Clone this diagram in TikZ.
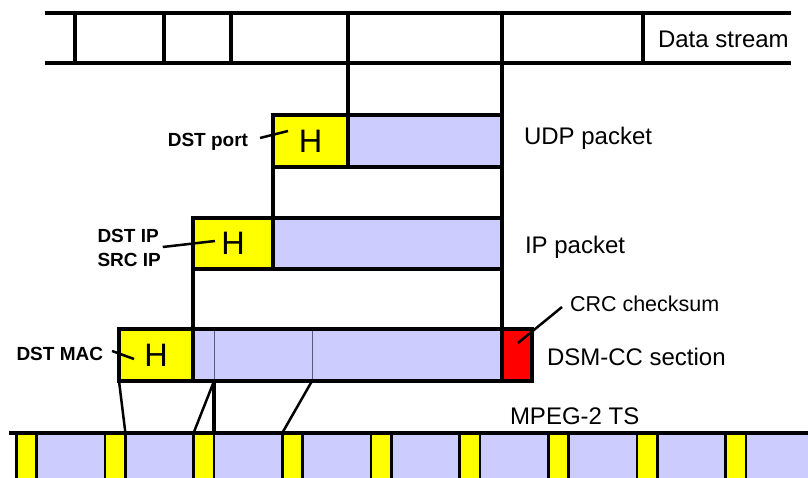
\documentclass[tikz,border=0pt]{standalone}
\usepackage{fontspec}
\setmainfont{Liberation Sans}
\usetikzlibrary{calc}
\definecolor{lav}{HTML}{CCCCFF}
\definecolor{yel}{HTML}{FFFF00}
\definecolor{crcred}{HTML}{FF0000}
\definecolor{thindiv}{HTML}{5A5A78}
\begin{document}
\begin{tikzpicture}[x=1pt,y=-1pt,
  thickline/.style={line width=3.2pt},
  leader/.style={line width=2.5pt},
  thinline/.style={line width=1pt, draw=thindiv},
  box/.style={draw=black, line width=3.2pt, inner sep=0pt, outer sep=0pt, anchor=north west},
  hbox/.style={box, fill=yel, font=\fontsize{32.5}{33}\selectfont},
  pbox/.style={box, fill=lav},
  lbl/.style={inner sep=0pt, outer sep=0pt, font=\fontsize{24}{28}\selectfont},
  tag/.style={inner sep=0pt, outer sep=0pt, font=\fontsize{19}{23}\selectfont\bfseries},
  stripe/.style={draw=black, fill=yel, line width=2.7pt, inner sep=0pt, outer sep=0pt,
    anchor=north west, minimum width=20.5pt, minimum height=60pt}]
\useasboundingbox (0,0) rectangle (808,478);
\clip (0,0) rectangle (808,478);

% ---- MPEG-2 TS row ----
\node[fill=lav, inner sep=0pt, outer sep=0pt, anchor=north west,
  minimum width=793pt, minimum height=50pt] (ts) at (15,433) {};
\foreach \i in {1,...,9}
  \node[stripe] (s\i) at ({16.25+88.66*(\i-1)},433) {};
\coordinate (tsstart) at (9,433);
\draw[thickline] (tsstart) -- (ts.north east);
\node[lbl, anchor=base west] (lts) at (510,424) {MPEG-2 TS};

% ---- Data stream ----
\coordinate (stTL) at (45,13);
\coordinate (stTR) at (791,13);
\coordinate (stBL) at (45,63);
\coordinate (stBR) at (791,63);
\draw[thickline] (stTL) -- (stTR);
\draw[thickline] (stBL) -- (stBR);
\foreach \x in {75,164,231,643}
  \draw[thickline] (\x,13) -- (\x,63);
\node[lbl, anchor=base west] (lds) at (658,48) {Data stream};

% ---- UDP packet ----
\node[hbox, minimum width=75pt, minimum height=52pt] (udpH) at (273,115) {H};
\node[pbox, minimum width=154pt, minimum height=52pt] (udpP) at (348,115) {};
\node[lbl, anchor=base west] (ludp) at (524,145) {UDP packet};

% ---- IP packet ----
\node[hbox, minimum width=80pt, minimum height=51pt] (ipH) at (193,218) {H};
\node[pbox, minimum width=229pt, minimum height=51pt] (ipP) at (273,218) {};
\node[lbl, anchor=base west] (lip) at (525,254) {IP packet};

% ---- DSM-CC section ----
\node[pbox, minimum width=309pt, minimum height=52pt] (dsmP) at (193,329) {};
\coordinate (d1t) at (s3.north east |- dsmP.north);
\coordinate (d1b) at (s3.north east |- dsmP.south);
\coordinate (d2t) at (312,329);
\coordinate (d2b) at (312,381);
\draw[thinline] (d1t) -- (d1b);
\draw[thinline] (d2t) -- (d2b);
\node[box, fill=crcred, minimum width=30pt, minimum height=52pt] (crc) at (502,329) {};
\node[hbox, minimum width=74pt, minimum height=52pt] (dsmH) at (119,329) {H};
\draw[line width=3.2pt] (dsmP.north west) rectangle (dsmP.south east);
\node[lbl, anchor=base west] (ldsm) at (547,365) {DSM-CC section};
\node[lbl, font=\fontsize{21.5}{25}\selectfont, anchor=base west] (lcrc) at (570,311) {CRC checksum};

% ---- connectors between layers ----
\draw[thickline] (udpH.north east |- stTL) -- (udpH.north east);
\draw[thickline] (crc.north west |- stTL) -- (crc.north west);
\draw[thickline] (udpH.south west) -- (ipP.north west);
\draw[thickline] (ipH.south west) -- (dsmP.north west);
\draw[leader] (dsmH.south west) -- (s2.north east);
\draw[thickline] (d1b) -- (s3.north east);
\draw[leader] (d1b) -- (s3.north west);
\draw[leader] (d2b) -- (s4.north west);

% ---- header labels ----
\node[tag, anchor=base east] (lport) at (248,147) {DST port};
\draw[leader] ($(lport.base east)+(12,-9)$) -- ($(udpH.west)+(15,-10)$);
\node[tag, anchor=base west] (lipd) at (97.5,243) {DST IP};
\node[tag, anchor=base west] (lips) at (97.5,266) {SRC IP};
\draw[leader] ($(lipd.base east)+(4,4)$) -- ($(ipH.west)+(22,-2.5)$);
\node[tag, anchor=base west] (lmac) at (16.5,360) {DST MAC};
\draw[leader] ($(lmac.base east)+(9,-9)$) -- ($(dsmH.west)+(15,4)$);
\draw[leader] ($(lcrc.base west)+(-8,-4)$) -- ($(crc.center)+(1,-12)$);
\end{tikzpicture}
\end{document}
